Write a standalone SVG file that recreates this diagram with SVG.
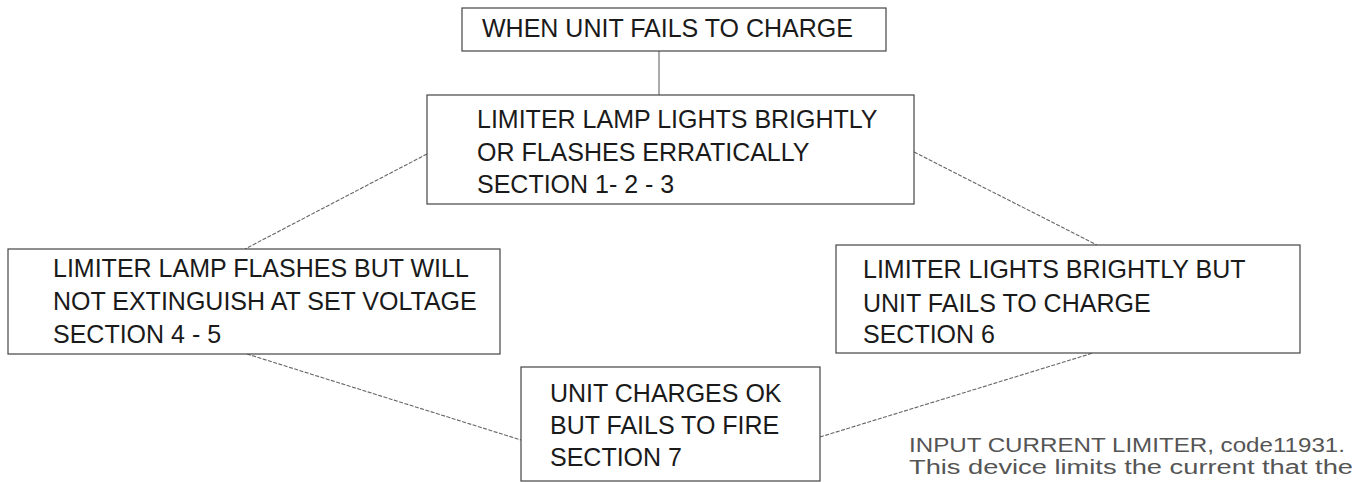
<svg xmlns="http://www.w3.org/2000/svg" width="1358" height="482" viewBox="0 0 1358 482">
<style>
.box{fill:#fff;stroke:#444;stroke-width:1.2}
.t{font-family:"Liberation Sans",Arial,sans-serif;font-size:25px;fill:#1a1a1a}
.note{font-family:"Liberation Sans",Arial,sans-serif;font-size:20px;fill:#555}
.c{stroke:#666;stroke-width:1.1;stroke-dasharray:4 1.5;fill:none}
</style>
<rect width="1358" height="482" fill="#fff"/>
<g id="connectors">
<line class="c" x1="659" y1="51" x2="659" y2="95" style="stroke-dasharray:none"/>
<line class="c" x1="427" y1="154" x2="245" y2="249"/>
<line class="c" x1="914" y1="152" x2="1097" y2="245"/>
<line class="c" x1="247" y1="354" x2="521" y2="440"/>
<line class="c" x1="820" y1="437" x2="1093" y2="353"/>
</g>
<g id="n1">
<rect class="box" x="462" y="8" width="424" height="43"/>
<text class="t" x="482" y="37">WHEN UNIT FAILS TO CHARGE</text>
</g>
<g id="n2">
<rect class="box" x="427" y="95" width="487" height="109"/>
<text class="t" x="477" y="128">LIMITER LAMP LIGHTS BRIGHTLY</text>
<text class="t" x="477" y="161">OR FLASHES ERRATICALLY</text>
<text class="t" x="477" y="193">SECTION 1- 2 - 3</text>
</g>
<g id="n3">
<rect class="box" x="8" y="249" width="492" height="105"/>
<text class="t" x="53" y="277">LIMITER LAMP FLASHES BUT WILL</text>
<text class="t" x="53" y="310">NOT EXTINGUISH AT SET VOLTAGE</text>
<text class="t" x="53" y="343">SECTION 4 - 5</text>
</g>
<g id="n4">
<rect class="box" x="836" y="245" width="464" height="108"/>
<text class="t" x="863" y="278">LIMITER LIGHTS BRIGHTLY BUT</text>
<text class="t" x="863" y="312">UNIT FAILS TO CHARGE</text>
<text class="t" x="863" y="343">SECTION 6</text>
</g>
<g id="n5">
<rect class="box" x="521" y="367" width="299" height="114"/>
<text class="t" x="550" y="402">UNIT CHARGES OK</text>
<text class="t" x="550" y="434">BUT FAILS TO FIRE</text>
<text class="t" x="550" y="466">SECTION 7</text>
</g>
<g id="note">
<text class="note" x="909" y="452" textLength="436" lengthAdjust="spacingAndGlyphs">INPUT CURRENT LIMITER, code11931.</text>
<text class="note" x="909" y="474" textLength="444" lengthAdjust="spacingAndGlyphs">This device limits the current that the</text>
</g>
</svg>
